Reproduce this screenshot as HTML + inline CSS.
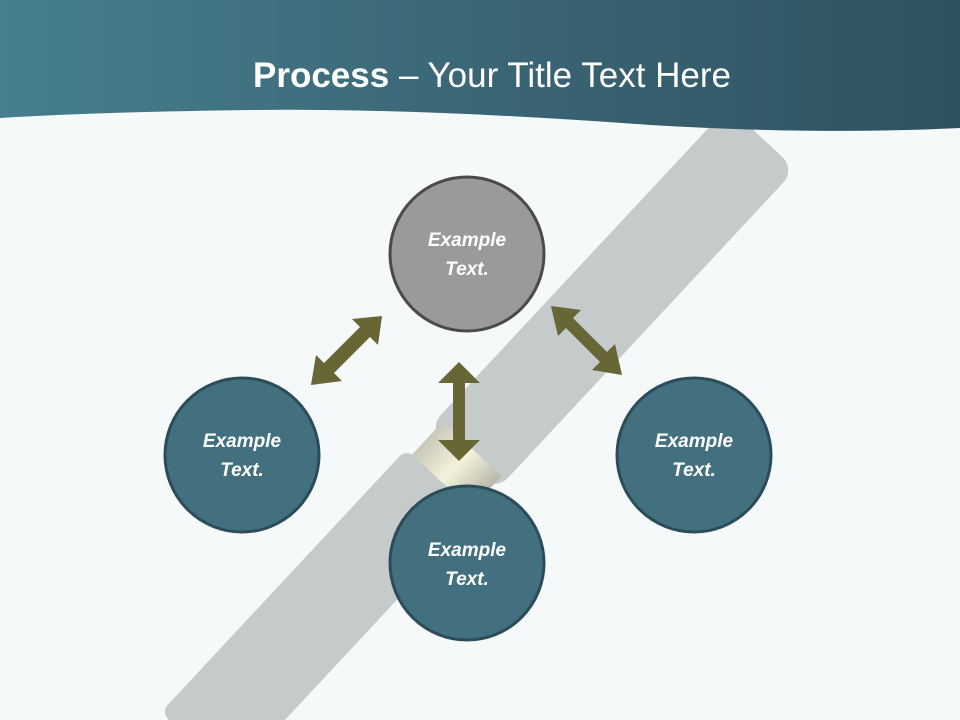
<!DOCTYPE html>
<html><head><meta charset="utf-8"><style>
html,body{margin:0;width:960px;height:720px;overflow:hidden;background:#f5f9fa;font-family:"Liberation Sans",sans-serif}
svg{display:block;overflow:hidden}
</style></head><body>
<svg width="960" height="720" viewBox="0 0 960 720" xmlns="http://www.w3.org/2000/svg">
<defs>
<linearGradient id="hd" x1="0" y1="0" x2="1" y2="0">
<stop offset="0" stop-color="#467f8e"/><stop offset="0.5" stop-color="#3b6675"/><stop offset="1" stop-color="#2e5260"/>
</linearGradient>
<linearGradient id="gold" x1="0" y1="0" x2="1" y2="0">
<stop offset="0" stop-color="#c8c8b8"/><stop offset="0.5" stop-color="#f5f2dc"/><stop offset="1" stop-color="#b8b8a8"/>
</linearGradient>
<clipPath id="c"><rect width="960" height="720"/></clipPath>
</defs>
<rect width="960" height="720" fill="#f5f9fa"/>
<g clip-path="url(#c)">
<g transform="translate(762,138) rotate(43)">
<rect x="-46" y="0" width="92" height="440" rx="18" fill="#c5cbcb"/>
<rect x="-40" y="425" width="80" height="50" fill="url(#gold)"/>
<rect x="-48" y="470" width="96" height="360" rx="10" fill="#c5cbcb"/>
</g>
</g>
<path d="M0,0 H960 V128 Q820,135 650,125 Q420,108 250,110 Q100,112 0,118 Z" fill="url(#hd)"/>
<text x="492" y="87" text-anchor="middle" fill="#fff" font-size="35" font-family="Liberation Sans, sans-serif"><tspan font-weight="bold">Process</tspan> – Your Title Text Here</text>
<g fill="#676634">
<path d="M311,385 L316,355 L324,363 L360,327 L352,319 L382,316 L378,345 L370,337 L334,373 L342,381 Z"/>
<path d="M459,362 L480,383 L465,383 L465,440 L480,440 L459,461 L438,440 L453,440 L453,383 L438,383 Z"/>
<path d="M551,306 L581,310 L573,318 L607,352 L615,344 L622,375 L592,370 L600,362 L566,328 L558,336 Z"/>
</g>
<g stroke-width="3">
<circle cx="467" cy="254" r="77" fill="#9a9a9a" stroke="#4a4a4a"/>
<circle cx="242" cy="455" r="77" fill="#43707f" stroke="#2b4c58"/>
<circle cx="694" cy="455" r="77" fill="#43707f" stroke="#2b4c58"/>
<circle cx="467" cy="563" r="77" fill="#43707f" stroke="#2b4c58"/>
</g>
<g fill="#fff" font-size="19" font-weight="bold" font-style="italic" text-anchor="middle">
<text x="467" y="246">Example</text><text x="467" y="275">Text.</text>
<text x="242" y="447">Example</text><text x="242" y="476">Text.</text>
<text x="694" y="447">Example</text><text x="694" y="476">Text.</text>
<text x="467" y="556">Example</text><text x="467" y="585">Text.</text>
</g>
</svg>
</body></html>
